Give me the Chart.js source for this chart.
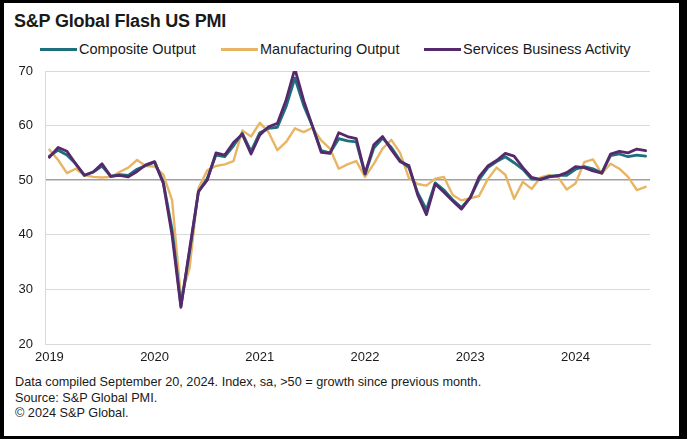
<!DOCTYPE html>
<html>
<head>
<meta charset="utf-8">
<script src="https://cdn.jsdelivr.net/npm/chart.js@4"></script>
<style>
  html, body { margin: 0; padding: 0; }
  body { width: 687px; height: 439px; background: #000; position: relative; overflow: hidden;
         font-family: "Liberation Sans", Arial, sans-serif; color: #1a1a1a; }
  #frame { position: absolute; left: 4px; top: 3px; width: 675px; height: 433px; background: #fff; }
  #title { position: absolute; left: 14px; top: 10px; font-size: 18px; font-weight: bold; line-height: 22px; letter-spacing: -0.2px; }
  .lg { position: absolute; top: 40px; height: 18px; font-size: 14.5px; line-height: 18px; white-space: nowrap; }
  .lg i { position: absolute; left: 0; top: 8px; width: 37px; height: 2.5px; }
  .lg span { position: absolute; left: 39px; top: 0; }
  #notes { position: absolute; left: 15px; top: 375px; font-size: 12.7px; line-height: 15.5px; white-space: nowrap; }
  #c { position: absolute; left: 0; top: 60px; }
</style>
</head>
<body>
<div id="frame"></div>
<div id="title">S&amp;P Global Flash US PMI</div>
<div class="lg" style="left:40px"><i style="background:#1d6f7c"></i><span>Composite Output</span></div>
<div class="lg" style="left:221px"><i style="background:#e8b565"></i><span>Manufacturing Output</span></div>
<div class="lg" style="left:424px"><i style="background:#55296c"></i><span>Services Business Activity</span></div>
<canvas id="c" width="687" height="310"></canvas>
<div id="notes">Data compiled September 20, 2024. Index, sa, &gt;50 = growth since previous month.<br>Source: S&amp;P Global PMI.<br>&copy; 2024 S&amp;P Global.</div>
<script>
// Months Jan 2019 .. Sep 2024
const years = ["2019", "2020", "2021", "2022", "2023", "2024"];
const months = [];
years.forEach(y => { for (let m = 1; m <= 12; m++) { if (y === "2024" && m > 9) break; months.push(y + "-" + String(m).padStart(2, "0")); } });

const yTicks = [20, 30, 40, 50, 60, 70];

const composite = [
  54.4, 55.5, 54.6, 53.0, 50.9, 51.5, 52.6, 50.7, 51.0, 50.9, 52.0, 52.7,
  53.3, 49.6, 40.9, 27.0, 37.0, 47.9, 50.3, 54.6, 54.3, 56.3, 58.6, 55.3,
  58.7, 59.5, 59.7, 63.5, 68.7, 63.7, 59.9, 55.4, 55.0, 57.6, 57.2, 57.0,
  51.1, 55.9, 57.7, 56.0, 53.6, 52.3, 47.7, 44.6, 49.5, 48.2, 46.4, 45.0,
  46.8, 50.1, 52.3, 53.4, 54.3, 53.2, 52.0, 50.2, 50.2, 50.7, 50.9, 50.9,
  52.0, 52.5, 52.1, 51.3, 54.5, 54.8, 54.3, 54.6, 54.4
];
const manufacturing = [
  55.6, 53.7, 51.3, 52.1, 50.9, 50.6, 50.5, 50.6, 51.5, 52.3, 53.7, 52.6,
  52.5, 51.0, 46.3, 28.5, 34.0, 48.5, 51.8, 52.6, 52.9, 53.5, 59.1, 58.0,
  60.5, 58.8, 55.5, 57.0, 59.5, 58.8, 59.6, 57.3, 55.8, 52.1, 52.9, 53.5,
  50.6, 53.0, 55.8, 57.4, 55.0, 50.4, 49.3, 49.0, 50.3, 50.6, 47.3, 46.3,
  46.7, 47.1, 50.2, 52.3, 51.0, 46.6, 49.7, 48.4, 50.5, 50.9, 50.6, 48.3,
  49.4, 53.3, 53.8, 51.2, 53.0, 52.1, 50.6, 48.2, 48.8
];
const services = [
  54.2, 56.0, 55.3, 53.0, 50.9, 51.5, 53.0, 50.7, 50.9, 50.6, 51.6, 52.8,
  53.4, 49.4, 39.8, 26.7, 37.5, 47.9, 50.0, 55.0, 54.6, 56.9, 58.4, 54.8,
  58.3, 59.8, 60.4, 64.7, 70.4, 64.6, 59.9, 55.1, 54.9, 58.7, 58.0, 57.6,
  51.2, 56.5, 58.0, 55.6, 53.4, 52.7, 47.3, 43.7, 49.3, 47.8, 46.2, 44.7,
  46.8, 50.6, 52.6, 53.6, 54.9, 54.4, 52.3, 50.5, 50.1, 50.6, 50.8, 51.4,
  52.5, 52.3, 51.7, 51.3, 54.8, 55.3, 55.0, 55.7, 55.4
];

const tickFont = { family: "'Liberation Sans', Arial, sans-serif", size: 13 };

new Chart(document.getElementById("c"), {
  type: "line",
  data: {
    labels: months,
    datasets: [
      { label: "Composite Output", data: composite, borderColor: "#1d6f7c", borderWidth: 2.8, order: 1 },
      { label: "Manufacturing Output", data: manufacturing, borderColor: "#e8b565", borderWidth: 2.4, order: 2 },
      { label: "Services Business Activity", data: services, borderColor: "#55296c", borderWidth: 2.8, order: 0 }
    ]
  },
  options: {
    responsive: false,
    animation: false,
    devicePixelRatio: 1,
    layout: { padding: { left: 0, right: 37, top: 11, bottom: 0 } },
    elements: { point: { radius: 0 }, line: { tension: 0, borderJoinStyle: "round", borderCapStyle: "round" } },
    plugins: { legend: { display: false }, tooltip: { enabled: false } },
    scales: {
      x: {
        type: "category",
        offset: true,
        grid: { display: false, drawTicks: false },
        border: { display: true, color: "#d9d9d9", width: 1 },
        ticks: {
          autoSkip: false, maxRotation: 0, minRotation: 0, padding: 6,
          color: "#1a1a1a", font: tickFont,
          callback: function (v, i) { return i % 12 === 0 ? months[i].slice(0, 4) : ""; }
        },
        afterFit: s => { s.height = 26; s.paddingLeft = 0; s.paddingRight = 0; }
      },
      y: {
        min: yTicks[0], max: yTicks[yTicks.length - 1],
        afterBuildTicks: s => { s.ticks = yTicks.map(v => ({ value: v })); },
        grid: {
          drawTicks: false,
          color: c => (c.tick && c.tick.value === 50) ? "#a0a0a0" : "#d9d9d9",
          lineWidth: c => (c.tick && c.tick.value === 50) ? 1.5 : 1
        },
        border: { display: true, color: "#d9d9d9", width: 1 },
        ticks: { padding: 12, color: "#1a1a1a", font: tickFont },
        afterFit: s => { s.width = 45; s.paddingTop = 0; s.paddingBottom = 0; }
      }
    }
  }
});
</script>
</body>
</html>
